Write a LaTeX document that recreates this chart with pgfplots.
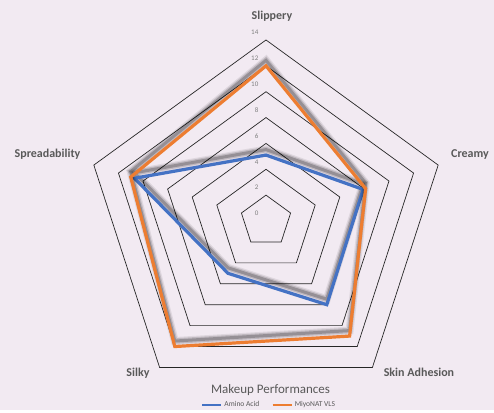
\documentclass[border=0pt]{standalone}
\usepackage{fontspec}
\setmainfont{Carlito}
\usepackage{pgfplots}
\pgfplotsset{compat=1.18}
\definecolor{bg}{HTML}{F2EAF2}
\definecolor{blueS}{HTML}{4472C4}
\definecolor{orangeS}{HTML}{ED7D31}
\definecolor{lab}{HTML}{595959}
\definecolor{tick}{HTML}{808080}
\pgfplotsset{
  base/.style={x=12.93pt, y=12.93pt, xmin=-20.572, xmax=17.633, ymin=-14.617, ymax=17.092, hide axis, clip=false},
  shad/.style={x=12.93pt, y=12.93pt, xmin=-20.572, xmax=17.633, ymin=-15.042, ymax=16.667, hide axis, clip=false},
  sh1/.style={data cs=polar, black, opacity=0.08, line width=8pt, forget plot},
  sh2/.style={data cs=polar, black, opacity=0.14, line width=5.5pt, forget plot},
  sh3/.style={data cs=polar, black, opacity=0.22, line width=3pt, forget plot},
}
\begin{document}
\begin{tikzpicture}
\begin{axis}[base]
\fill[bg] (axis cs:-20.572,-14.617) rectangle (axis cs:17.633,17.092);
\pgfplotsinvokeforeach{2,4,6,8,10,12,14}{
  \addplot[data cs=polar, black!85, line width=0.7pt, forget plot] coordinates {(90,#1) (18,#1) (-54,#1) (-126,#1) (162,#1)} -- cycle;
}
\pgfplotsinvokeforeach{0,2,4,6,8,10,12,14}{
  \node[anchor=east, font=\fontsize{7}{8}\selectfont, text=tick, xshift=-7.5pt, yshift=7.5pt, inner sep=0pt] at (axis cs:0,#1) {#1};
}
\end{axis}
% Amino Acid shadow
\begin{axis}[shad]
\addplot[sh1] coordinates {(90,5.1) (18,7.9) (-54,8) (-126,5) (162,10.7)} -- cycle;
\addplot[sh2] coordinates {(90,5.1) (18,7.9) (-54,8) (-126,5) (162,10.7)} -- cycle;
\addplot[sh3] coordinates {(90,5.1) (18,7.9) (-54,8) (-126,5) (162,10.7)} -- cycle;
\end{axis}
\begin{axis}[base]
\addplot[data cs=polar, blueS, line width=3.2pt] coordinates {(90,5.1) (18,7.9) (-54,8) (-126,5) (162,10.7)} -- cycle;
\end{axis}
% MiyoNAT shadow
\begin{axis}[shad]
\addplot[sh1] coordinates {(90,12) (18,8.1) (-54,11) (-126,12) (162,11)} -- cycle;
\addplot[sh2] coordinates {(90,12) (18,8.1) (-54,11) (-126,12) (162,11)} -- cycle;
\addplot[sh3] coordinates {(90,12) (18,8.1) (-54,11) (-126,12) (162,11)} -- cycle;
\end{axis}
\begin{axis}[base,
  legend columns=2,
  legend style={at={(axis description cs:0.5445,0.0122)}, anchor=center, draw=none, fill=none,
    font=\fontsize{7.5}{8}\selectfont\color{lab},
    /tikz/every even column/.append style={column sep=10pt}},
  legend image code/.code={\draw[#1, line width=2.5pt] (0pt,0pt) -- (19pt,0pt);},
]
\addlegendimage{blueS}
\addlegendentry{Amino Acid}
\addplot[data cs=polar, orangeS, line width=3.2pt] coordinates {(90,12) (18,8.1) (-54,11) (-126,12) (162,11)} -- cycle;
\addlegendentry{MiyoNAT VLS}
\begin{scope}[every node/.style={font=\fontsize{12}{14}\selectfont\bfseries, text=lab}]
\node at (axis cs:0.46,15.85) {Slippery};
\node at (axis cs:15.78,5.18) {Creamy};
\node at (axis cs:11.83,-11.73) {Skin Adhesion};
\node at (axis cs:-9.90,-11.76) {Silky};
\node at (axis cs:-16.9,5.18) {Spreadability};
\end{scope}
\node[font=\fontsize{13}{15}\selectfont, text=lab] at (axis cs:0.35,-13.07) {Makeup Performances};
\end{axis}
\end{tikzpicture}
\end{document}
